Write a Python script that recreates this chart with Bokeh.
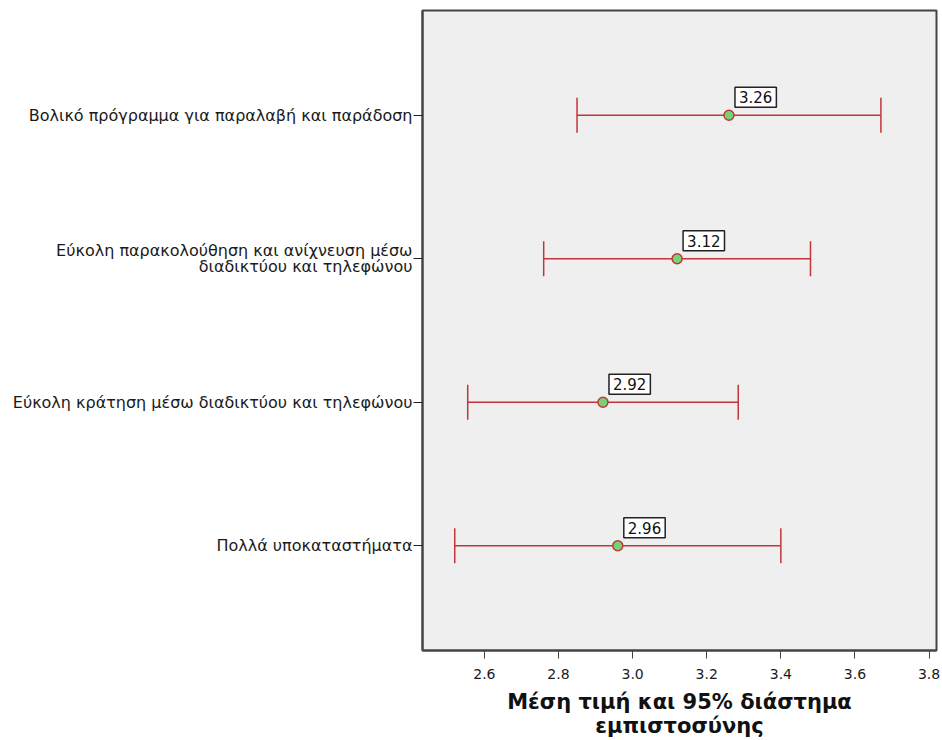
from bokeh.plotting import figure
from bokeh.models import Range1d, ColumnDataSource, Whisker, TeeHead, Label, FixedTicker
from bokeh.embed import file_html
from bokeh.resources import INLINE

# Items, listed top to bottom
items = [
    "Βολικό πρόγραμμα για παραλαβή και παράδοση",
    "Εύκολη παρακολούθηση και ανίχνευση μέσω\nδιαδικτύου και τηλεφώνου",
    "Εύκολη κράτηση μέσω διαδικτύου και τηλεφώνου",
    "Πολλά υποκαταστήματα",
]
means = [3.26, 3.12, 2.92, 2.96]
ci_low = [2.85, 2.76, 2.555, 2.52]
ci_high = [3.67, 3.48, 3.285, 3.40]
x_ticks = [2.6, 2.8, 3.0, 3.2, 3.4, 3.6, 3.8]

ypos = list(range(len(items), 0, -1))
src = ColumnDataSource(dict(y=ypos, mean=means, lo=ci_low, hi=ci_high))

RED = "#c0363a"
FONT = "DejaVu Sans"

p = figure(width=942, height=740, output_backend="svg", toolbar_location=None,
           x_range=Range1d(2.433, 3.82), y_range=Range1d(0.27, 4.73),
           min_border_left=422, min_border_right=6, min_border_top=10,
           min_border_bottom=90)
p.background_fill_color = "#efefef"
p.border_fill_color = "white"
p.outline_line_color = "#444444"
p.outline_line_width = 2
p.grid.visible = False

# confidence interval whiskers
w = Whisker(source=src, base="y", lower="lo", upper="hi", dimension="width",
            line_color=RED, line_width=1.5,
            lower_head=TeeHead(size=35, line_color=RED, line_width=1.5),
            upper_head=TeeHead(size=35, line_color=RED, line_width=1.5))
p.add_layout(w)

p.scatter("mean", "y", source=src, size=10, fill_color="#74d474",
          line_color=RED, line_width=1.5)

# boxed value labels next to each mean
for m, y in zip(means, ypos):
    p.add_layout(Label(x=m, y=y, text=f"{m:.2f}", x_offset=6, y_offset=8,
                       text_align="left", text_baseline="bottom",
                       text_font=FONT, text_font_size="15px",
                       text_color="#111111", background_fill_color="white",
                       border_line_color="#222222", border_line_width=1.5,
                       padding=4))

# x axis
p.xaxis.ticker = FixedTicker(ticks=x_ticks)
p.xaxis.major_label_overrides = {t: f"{t:.1f}" for t in x_ticks}
p.xaxis.minor_tick_line_color = None
p.xaxis.major_tick_in = 0
p.xaxis.major_tick_out = 8
p.xaxis.axis_line_color = "#444444"
p.xaxis.axis_line_width = 2
p.xaxis.major_tick_line_color = "#444444"
p.xaxis.major_label_text_font = FONT
p.xaxis.major_label_text_font_size = "14px"
p.xaxis.major_label_text_color = "#1a1a1a"
p.xaxis.major_label_standoff = 10
p.xaxis.axis_label = "Μέση τιμή και 95% διάστημα\nεμπιστοσύνης"
p.xaxis.axis_label_text_font = FONT
p.xaxis.axis_label_text_font_style = "bold"
p.xaxis.axis_label_text_font_size = "21px"
p.xaxis.axis_label_text_line_height = 1.0
p.xaxis.axis_label_text_color = "#111111"
p.xaxis.axis_label_standoff = 8

# y axis with item names
p.yaxis.ticker = FixedTicker(ticks=ypos)
p.yaxis.major_label_overrides = {y: t for y, t in zip(ypos, items)}
p.yaxis.minor_tick_line_color = None
p.yaxis.major_tick_in = 0
p.yaxis.major_tick_out = 9
p.yaxis.axis_line_color = "#444444"
p.yaxis.axis_line_width = 2
p.yaxis.major_tick_line_color = "#222222"
p.yaxis.major_label_text_font = FONT
p.yaxis.major_label_text_font_size = "16px"
p.yaxis.major_label_text_line_height = 0.82
p.yaxis.major_label_text_color = "#1a1a1a"
p.yaxis.major_label_standoff = 1

open("out.html", "w").write(file_html(p, INLINE))
